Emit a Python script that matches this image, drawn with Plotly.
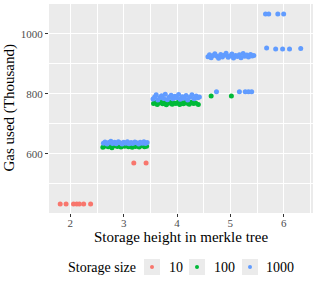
import plotly.graph_objects as go

# ---- data ----
size_labels = ["10", "100", "1000"]
colors = ["#F8766D", "#00BA38", "#619CFF"]
x_ticks = [2, 3, 4, 5, 6]
y_ticks = [600, 800, 1000]

# Storage size 10
x10 = [1.81, 1.92, 2.06, 2.12, 2.17, 2.25, 2.38, 3.19, 3.42]
y10 = [433, 433, 433, 433, 433, 433, 433, 570, 570]

# Storage size 100
x100 = [2.61, 2.64, 2.68, 2.71, 2.75, 2.78, 2.82, 2.85, 2.88, 2.91, 2.95, 2.99, 3.02,
        3.05, 3.09, 3.12, 3.16, 3.19, 3.22, 3.26, 3.29, 3.33, 3.36, 3.39, 3.43,
        3.56, 3.59, 3.63, 3.66, 3.70, 3.73, 3.77, 3.80, 3.84, 3.88, 3.91, 3.95, 3.98,
        4.02, 4.05, 4.09, 4.12, 4.16, 4.19, 4.23, 4.27, 4.31, 4.35, 4.40,
        4.64, 5.02]
y100 = [622, 626, 630, 624, 628, 621, 627, 631, 625, 629, 623, 628, 626,
        630, 624, 627, 622, 629, 625, 628, 623, 627, 630, 624, 626,
        768, 772, 765, 770, 774, 767, 771, 764, 769, 773, 766, 770, 768,
        772, 765, 771, 767, 774, 769, 766, 772, 768, 770, 765,
        793, 793]

# Storage size 1000
x1000 = [2.62, 2.65, 2.69, 2.72, 2.76, 2.79, 2.83, 2.86, 2.90, 2.93, 2.97, 3.00, 3.04,
         3.07, 3.10, 3.14, 3.17, 3.21, 3.24, 3.28, 3.31, 3.35, 3.38, 3.41, 3.44,
         3.55, 3.58, 3.61, 3.64, 3.68, 3.71, 3.75, 3.78, 3.82, 3.85, 3.89, 3.92, 3.96,
         3.99, 4.03, 4.06, 4.10, 4.13, 4.17, 4.20, 4.24, 4.28, 4.32, 4.36, 4.39, 4.42,
         4.58, 4.61, 4.64, 4.68, 4.71, 4.75, 4.78, 4.82, 4.85, 4.89, 4.92, 4.96, 4.99,
         5.03, 5.06, 5.10, 5.13, 5.17, 5.20, 5.24, 5.27, 5.31, 5.34, 5.38, 5.41, 5.44,
         4.74, 5.17, 5.28, 5.34, 5.40,
         5.68, 5.85, 5.98, 6.11, 6.32,
         5.66, 5.72, 5.89, 6.00]
y1000 = [636, 640, 633, 638, 642, 635, 639, 634, 641, 637, 633, 639, 636,
         641, 634, 638, 635, 640, 637, 633, 639, 636, 641, 635, 638,
         783, 790, 797, 780, 788, 794, 785, 799, 781, 789, 796, 784, 792,
         787, 798, 782, 791, 786, 795, 780, 789, 797, 784, 793, 787, 790,
         924, 931, 921, 928, 934, 926, 919, 932, 923, 929, 936, 922, 927,
         933, 920, 928, 925, 931, 921, 935, 926, 930, 923, 932, 927, 928,
         807, 807, 807, 807, 807,
         953, 950, 950, 950, 952,
         1067, 1067, 1067, 1067]

series_x = [x10, x100, x1000]
series_y = [y10, y100, y1000]

FONT = "Liberation Serif, DejaVu Serif, serif"
TITLE_SIZE = 15
LEGEND_SIZE = 14
W, H = 316, 285
ML, MR, MT, MB = 49, 3, 4, 72
PW, PH = W - ML - MR, H - MT - MB


def px_x(px):
    return (px - ML) / PW


def px_y(py):
    return (H - MB - py) / PH


fig = go.Figure()
for lab, col, xs, ys in zip(size_labels, colors, series_x, series_y):
    fig.add_trace(go.Scatter(
        x=xs, y=ys, mode="markers", name=lab, showlegend=False,
        marker=dict(color=col, size=5, line=dict(width=0)),
    ))

axis_common = dict(
    showgrid=True, gridcolor="white", gridwidth=1.1,
    zeroline=False, showline=False, automargin=False,
    ticks="outside", ticklen=3, tickwidth=1, tickcolor="#333333",
    tickfont=dict(family=FONT, size=11, color="#4D4D4D"),
    minor=dict(showgrid=True, gridcolor="white", gridwidth=0.5),
)

fig.update_xaxes(range=[1.6, 6.55], tickvals=x_ticks, ticklabelstandoff=-3,
                 minor_tickvals=[1.5, 2.5, 3.5, 4.5, 5.5, 6.5], **axis_common)
fig.update_yaxes(range=[403, 1100], tickvals=y_ticks,
                 minor_tickvals=[500, 700, 900], **axis_common)

annotations = [
    dict(text="Storage height in merkle tree", xref="paper", yref="paper",
         x=0.5, y=px_y(237), xanchor="center", yanchor="middle", showarrow=False,
         font=dict(family=FONT, size=TITLE_SIZE, color="black")),
    dict(text="Gas used (Thousand)", xref="paper", yref="paper",
         x=px_x(9), y=0.5, xanchor="center", yanchor="middle", showarrow=False,
         textangle=-90, font=dict(family=FONT, size=TITLE_SIZE, color="black")),
    dict(text="Storage size", xref="paper", yref="paper",
         x=px_x(66), y=px_y(267), xanchor="left", yanchor="middle", showarrow=False,
         font=dict(family=FONT, size=LEGEND_SIZE, color="black")),
]

shapes = []
key_left = [144, 189, 242]
text_left = [167, 212, 264]
for lab, col, kl, tl in zip(size_labels, colors, key_left, text_left):
    shapes.append(dict(type="rect", xref="paper", yref="paper",
                       x0=px_x(kl), x1=px_x(kl + 16), y0=px_y(275), y1=px_y(259),
                       fillcolor="#EBEBEB", line=dict(width=0), layer="above"))
    cx, cy = kl + 8, 267
    shapes.append(dict(type="circle", xref="paper", yref="paper",
                       x0=px_x(cx - 2), x1=px_x(cx + 2), y0=px_y(cy + 2), y1=px_y(cy - 2),
                       fillcolor=col, line=dict(width=0), layer="above"))
    annotations.append(dict(text=lab, xref="paper", yref="paper",
                            x=px_x(tl), y=px_y(267), xanchor="left", yanchor="middle",
                            showarrow=False,
                            font=dict(family=FONT, size=LEGEND_SIZE, color="black")))

fig.update_layout(
    width=W, height=H,
    margin=dict(l=ML, r=MR, t=MT, b=MB),
    plot_bgcolor="#EBEBEB", paper_bgcolor="white",
    font=dict(family=FONT, color="black"),
    showlegend=False,
    annotations=annotations,
    shapes=shapes,
)

fig.write_html("out.html", config={"displayModeBar": False},
               post_script="document.body.style.margin='0';document.body.style.padding='0';")
